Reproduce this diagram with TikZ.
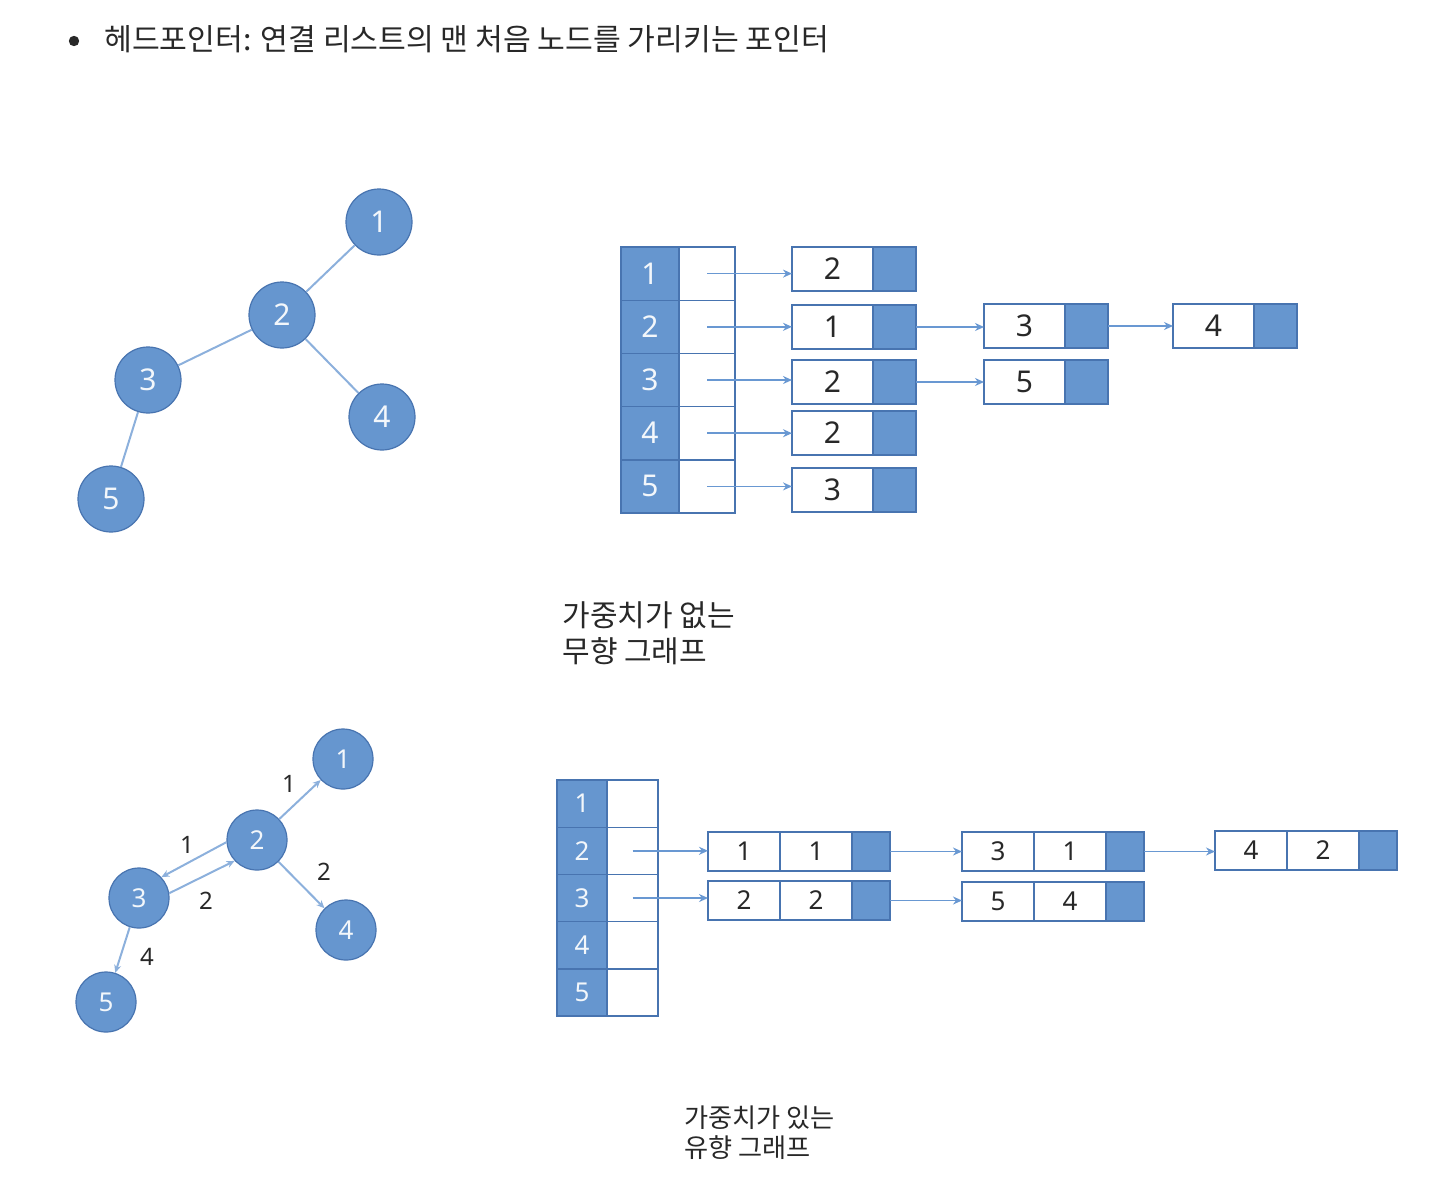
\documentclass[tikz,border=0pt]{standalone}
\usepackage{fontspec}
\usetikzlibrary{arrows.meta}
\newfontfamily\kr{Noto Sans CJK KR}
\newfontfamily\dg{Noto Sans}
\definecolor{nblue}{RGB}{102,150,207}
\definecolor{nborder}{RGB}{72,116,176}
\definecolor{edgec}{RGB}{140,176,220}
\definecolor{arrc}{RGB}{105,152,210}
\definecolor{txt}{RGB}{40,40,40}
\tikzset{
  vert/.style={circle, fill=nblue, draw=nborder, line width=0.6pt, minimum size=33pt, inner sep=0pt, text=white!92!nblue, font=\dg\fontsize{15}{15}\selectfont},
  vertb/.style={vert, minimum size=30pt, font=\dg\fontsize{13}{13}\selectfont},
  uedge/.style={draw=edgec, line width=1pt},
  darr/.style={draw=edgec, line width=1pt, -{Stealth[length=4pt,width=3.5pt]}},
  elab/.style={text=txt, font=\dg\fontsize{12}{12}\selectfont, inner sep=0pt},
  bcell/.style={draw=nborder, fill=nblue, line width=0.7pt, inner sep=0pt, outer sep=0pt, anchor=north west, text=white!92!nblue},
  wcell/.style={draw=nborder, fill=white, line width=0.7pt, inner sep=0pt, outer sep=0pt, anchor=north west, text=txt},
  arr/.style={draw=arrc, line width=0.8pt, -{Stealth[length=4.5pt,width=4pt]}},
  lab/.style={anchor=west, inner sep=0pt, text=txt}
}
% list node with one data field: name, x, y(top), label
\newcommand\lnA[4]{%
  \node[wcell, minimum width=40.5pt, minimum height=22pt, font=\dg\fontsize{15}{15}\selectfont] (#1w) at (#2,#3) {#4};
  \node[bcell, minimum width=21.5pt, minimum height=22pt] (#1b) at (#1w.north east) {};}
% list node with two data fields: name, x, y(top), label1, label2
\newcommand\lnB[5]{%
  \node[wcell, minimum width=36pt, minimum height=19.5pt, font=\dg\fontsize{13}{13}\selectfont] (#1w) at (#2,#3) {#4};
  \node[wcell, minimum width=36pt, minimum height=19.5pt, font=\dg\fontsize{13}{13}\selectfont] (#1v) at (#1w.north east) {#5};
  \node[bcell, minimum width=19pt, minimum height=19.5pt] (#1b) at (#1v.north east) {};}
\begin{document}
\begin{tikzpicture}[x=0.5pt,y=-0.5pt]
\useasboundingbox (0,0) rectangle (1434,1184);
% heading
\fill[txt] (74,41) circle (2.6pt);
\node[lab, font=\kr\fontsize{15.1}{15.1}\selectfont] (head) at (104,39) {헤드포인터: 연결 리스트의 맨 처음 노드를 가리키는 포인터};

% ---------- graph 1 ----------
\node[vert] (a1) at (379,222) {1};
\node[vert] (a2) at (282,315) {2};
\node[vert] (a3) at (148,380) {3};
\node[vert] (a4) at (382,417) {4};
\node[vert] (a5) at (111,499) {5};
\draw[uedge] (a2) -- (a1);
\draw[uedge] (a2) -- (a3);
\draw[uedge] (a2) -- (a4);
\draw[uedge] (a3) -- (a5);

% ---------- table 1 ----------
\foreach \i in {1,...,5}{
  \node[bcell, minimum width=29pt, minimum height=26.6pt, font=\dg\fontsize{15}{15}\selectfont] (tb\i) at (621,{247+(\i-1)*53.2}) {\i};
  \node[wcell, minimum width=28pt, minimum height=26.6pt] (tw\i) at (tb\i.north east) {};
}
\lnA{p1}{792}{247}{2}
\lnA{p2}{792}{305}{1}
\lnA{p3}{792}{360}{2}
\lnA{p4}{792}{411}{2}
\lnA{p5}{792}{468}{3}
\lnA{q2}{984}{304}{3}
\lnA{q3}{984}{360}{5}
\lnA{r2}{1173}{304}{4}
\foreach \i in {1,...,5}{ \draw[arr] (tw\i.center) -- (tw\i.center -| p\i w.west); }
\draw[arr] (p2b.east) -- (p2b.east -| q2w.west);
\draw[arr] (p3b.east) -- (p3b.east -| q3w.west);
\draw[arr] (q2b.east) -- (q2b.east -| r2w.west);

\node[lab, font=\kr\fontsize{15}{15}\selectfont] (l1a) at (562,615) {가중치가 없는};
\node[lab, font=\kr\fontsize{15}{15}\selectfont] (l1b) at (562,651) {무향 그래프};

% ---------- graph 2 ----------
\node[vertb] (b1) at (343,759) {1};
\node[vertb] (b2) at (257,840) {2};
\node[vertb] (b3) at (139,898) {3};
\node[vertb] (b4) at (346,930) {4};
\node[vertb] (b5) at (106,1002) {5};
\draw[darr] (b2) -- (b1);
\draw[darr] (b2.184) -- (b3.43);
\draw[darr] (b3.9) -- (b2.223);
\draw[darr] (b2) -- (b4);
\draw[darr] (b3) -- (b5);
\node[elab] (w21) at (289,784) {1};
\node[elab] (w23) at (187,845) {1};
\node[elab] (w32) at (206,901) {2};
\node[elab] (w24) at (324,872) {2};
\node[elab] (w35) at (147,957) {4};

% ---------- table 2 ----------
\foreach \i in {1,...,5}{
  \node[bcell, minimum width=25pt, minimum height=23.6pt, font=\dg\fontsize{13}{13}\selectfont] (sb\i) at (557,{780+(\i-1)*47.2}) {\i};
  \node[wcell, minimum width=25.5pt, minimum height=23.6pt] (sw\i) at (sb\i.north east) {};
}
\lnB{u2}{708}{832}{1}{1}
\lnB{u3}{708}{881}{2}{2}
\lnB{v2}{962}{832}{3}{1}
\lnB{v3}{962}{882}{5}{4}
\lnB{x2}{1215}{831}{4}{2}
\draw[arr] (sw2.center) -- (sw2.center -| u2w.west);
\draw[arr] (sw3.center) -- (sw3.center -| u3w.west);
\draw[arr] (u2b.east) -- (u2b.east -| v2w.west);
\draw[arr] (u3b.east) -- (u3b.east -| v3w.west);
\draw[arr] (v2b.east) -- (v2b.east -| x2w.west);

\node[lab, font=\kr\fontsize{13.1}{13.1}\selectfont] (l2a) at (684,1118) {가중치가 있는};
\node[lab, font=\kr\fontsize{13.1}{13.1}\selectfont] (l2b) at (684,1148) {유향 그래프};
\end{tikzpicture}
\end{document}
